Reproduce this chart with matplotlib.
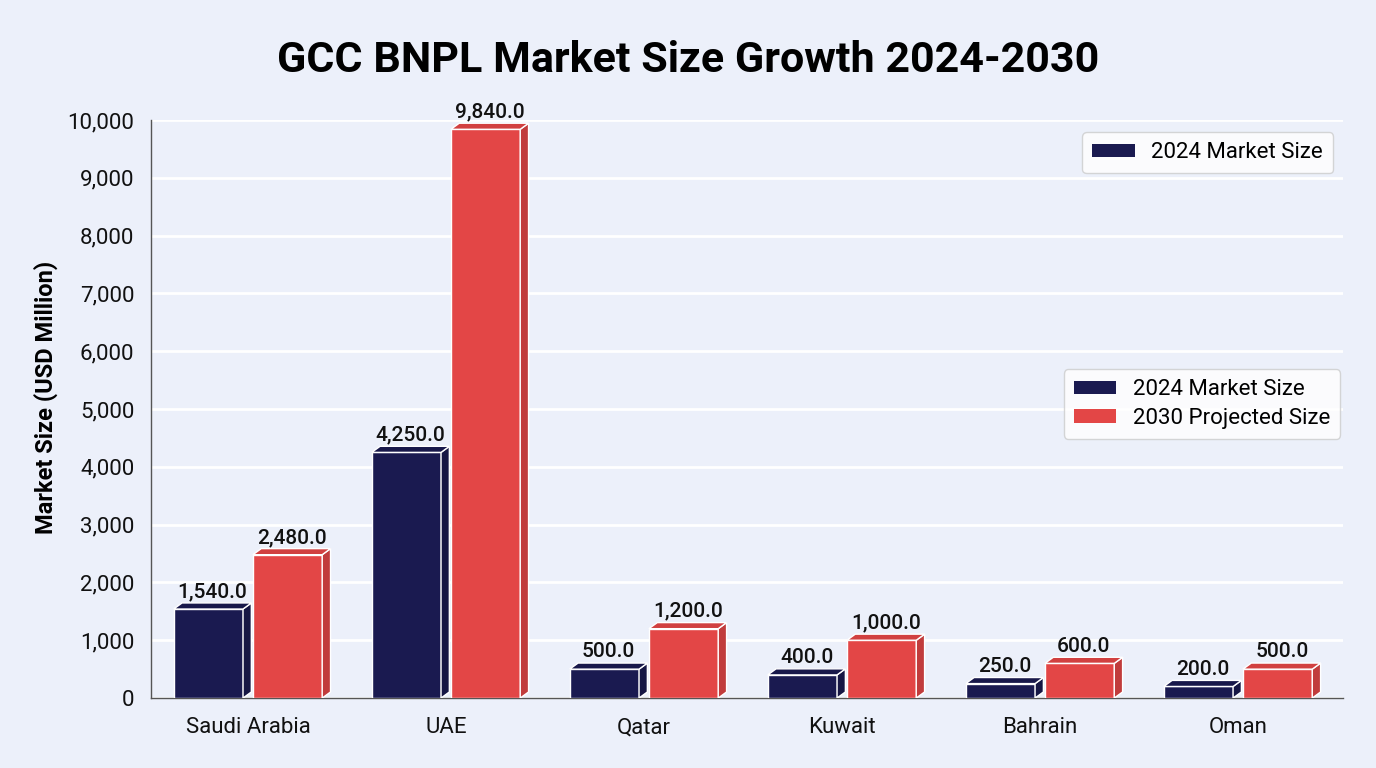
import numpy as np
import matplotlib.pyplot as plt
from matplotlib.patches import Polygon, Patch
from matplotlib.ticker import FuncFormatter

countries = ["Saudi Arabia", "UAE", "Qatar", "Kuwait", "Bahrain", "Oman"]
size_2024 = [1540, 4250, 500, 400, 250, 200]
size_2030 = [2480, 9840, 1200, 1000, 600, 500]

bg = "#ECF0FA"
navy = "#1A1A50"
red = "#E34646"

plt.rcParams['font.family'] = ['Roboto', 'DejaVu Sans']

fig = plt.figure(figsize=(13.76, 7.68), dpi=100, facecolor=bg)
ax = fig.add_axes([0.1097, 0.0911, 0.8663, 0.7526], facecolor=bg)

x = np.arange(len(countries))
w = 0.35
off = 0.2
dx = 0.042   # depth of side face (data units)
dy = 105     # depth of top face (data units)


def shade(c, f):
    import matplotlib.colors as mc
    r, g, b = mc.to_rgb(c)
    return (r * f, g * f, b * f)


def bar3d(x0, h, color):
    l, r = x0 - w / 2, x0 + w / 2
    front = Polygon([(l, 0), (r, 0), (r, h), (l, h)], closed=True,
                    facecolor=color, edgecolor='white', lw=1.0, zorder=3)
    side = Polygon([(r, 0), (r + dx, dy), (r + dx, h + dy), (r, h)], closed=True,
                   facecolor=shade(color, 0.85), edgecolor='white', lw=1.0, zorder=3)
    top = Polygon([(l, h), (r, h), (r + dx, h + dy), (l + dx, h + dy)], closed=True,
                  facecolor=shade(color, 0.92), edgecolor='white', lw=1.0, zorder=3)
    for p in (front, side, top):
        ax.add_patch(p)
    ax.text(x0 + dx / 2, h + dy + 30, f"{h:,.1f}", ha='center', va='bottom',
            fontsize=15, fontweight='medium', color='#111111', zorder=4)


for i in range(len(countries)):
    bar3d(x[i] - off, size_2024[i], navy)
    bar3d(x[i] + off, size_2030[i], red)

ax.set_xlim(-0.49, 5.53)
ax.set_ylim(0, 10000)
ax.set_yticks(np.arange(0, 10001, 1000))
ax.yaxis.set_major_formatter(FuncFormatter(lambda v, p: f"{int(v):,}"))
ax.set_xticks(x)
ax.set_xticklabels(countries)
ax.tick_params(axis='both', length=0, labelsize=16, colors='#111111')
ax.tick_params(axis='x', pad=14)
ax.tick_params(axis='y', pad=12)
ax.grid(axis='y', color='white', lw=2, zorder=0)
ax.set_axisbelow(True)
for s in ['top', 'right']:
    ax.spines[s].set_visible(False)
for s in ['left', 'bottom']:
    ax.spines[s].set_color('#555555')
    ax.spines[s].set_linewidth(1)

ax.set_ylabel("Market Size (USD Million)", fontsize=17, fontweight='bold')
ax.yaxis.set_label_coords(-0.078, 0.52)
fig.suptitle("GCC BNPL Market Size Growth 2024-2030", fontsize=31, fontweight='bold',
             y=0.948)

h1 = Patch(facecolor=navy, edgecolor='none')
h2 = Patch(facecolor=red, edgecolor='none')
leg_kw = dict(fontsize=16, handlelength=1.9, handleheight=0.55, handletextpad=0.75,
              frameon=True, fancybox=True, borderpad=0.45, borderaxespad=0)
leg1 = ax.legend([h1], ["2024 Market Size"], loc='upper right',
                 bbox_to_anchor=(0.9916, 0.979), **leg_kw)
leg1.get_frame().set_facecolor('white')
leg1.get_frame().set_edgecolor('#cccccc')
ax.add_artist(leg1)
leg2 = ax.legend([h1, h2], ["2024 Market Size", "2030 Projected Size"], loc='center right',
                 bbox_to_anchor=(0.9975, 0.5087), labelspacing=0.35, **leg_kw)
leg2.get_frame().set_facecolor('white')
leg2.get_frame().set_edgecolor('#cccccc')

fig.savefig("out.png", dpi=100, facecolor=bg)
